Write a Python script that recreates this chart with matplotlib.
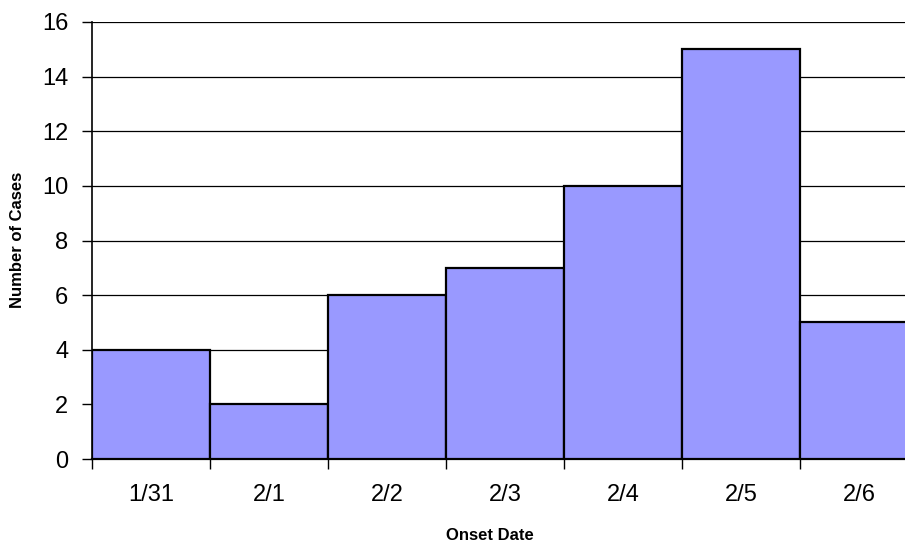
import matplotlib.pyplot as plt
import numpy as np

plt.rcParams['font.family'] = ['Liberation Sans', 'DejaVu Sans']

# Casos por fecha de inicio de síntomas
fechas = ['1/31', '2/1', '2/2', '2/3', '2/4', '2/5', '2/6']
casos = [4, 2, 6, 7, 10, 15, 5]
y_ticks = [0, 2, 4, 6, 8, 10, 12, 14, 16]

fig = plt.figure(figsize=(9.05, 5.44), dpi=100)
# el área del gráfico se sale un poco por la derecha
ax = fig.add_axes([92 / 905, 85 / 544, 826 / 905, 437 / 544])

x = np.arange(len(fechas))
ax.bar(x, casos, width=1.0, color='#9999FF', edgecolor='black', linewidth=1.6, zorder=3)

ax.set_xlim(-0.5, len(fechas) - 0.5)
ax.set_ylim(0, 16)
ax.set_yticks(y_ticks)
ax.tick_params(axis='y', labelsize=17, length=7, width=1, pad=10)
ax.yaxis.grid(True, color='black', linewidth=0.9, zorder=0)

# marcas en los límites de cada barra, etiquetas centradas
ax.set_xticks(np.arange(len(fechas) + 1) - 0.5)
ax.set_xticklabels([])
ax.set_xticks(x, minor=True)
ax.set_xticklabels(fechas, minor=True, fontsize=17)
ax.tick_params(axis='x', which='major', length=7, width=1, direction='out')
ax.tick_params(axis='x', which='minor', length=0, pad=18)

for lado in ['top', 'right']:
    ax.spines[lado].set_visible(False)
ax.spines['left'].set_linewidth(1.2)
ax.spines['bottom'].set_linewidth(1.6)

fig.text(490 / 905, 1 - 535 / 544, 'Onset Date', ha='center', va='center',
         fontsize=12, fontweight='bold')
fig.text(18 / 905, 1 - 240 / 544, 'Number of Cases', ha='center', va='center',
         rotation=90, fontsize=12, fontweight='bold')

fig.savefig('out.png', dpi=100)
